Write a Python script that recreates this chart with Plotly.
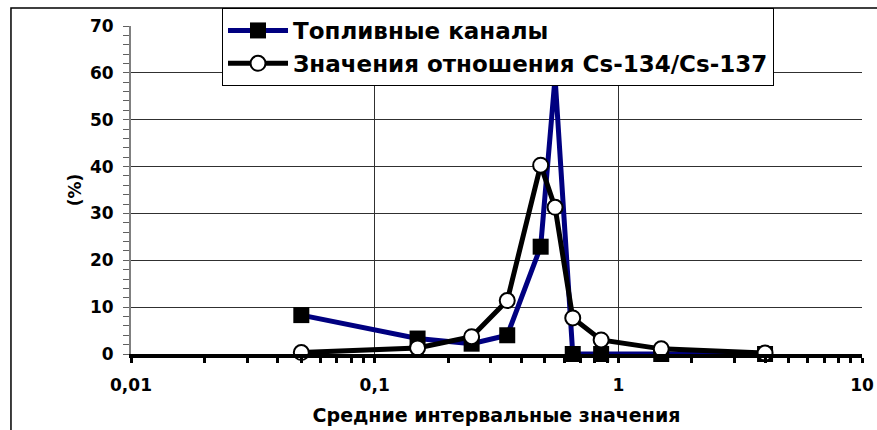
import plotly.graph_objects as go

# Data
x_vals = [0.05, 0.15, 0.25, 0.35, 0.48, 0.55, 0.65, 0.85, 1.5, 4]
fuel_channels = [8.3, 3.3, 2.2, 4.0, 22.9, 59.0, 0.0, 0.0, 0.0, 0.0]
cs_ratio = [0.3, 1.3, 3.7, 11.4, 40.3, 31.3, 7.7, 3.0, 1.1, 0.2]

series_names = ["Топливные каналы", "Значения отношения Cs-134/Cs-137"]
x_tickvals = [0.01, 0.1, 1, 10]
x_ticktext = ["0,01", "0,1", "1", "10"]
y_tickvals = [0, 10, 20, 30, 40, 50, 60, 70]
x_title = "Средние интервальные значения"
y_title = "(%)"

FONT = "DejaVu Sans, Verdana, sans-serif"

fig = go.Figure()
fig.add_trace(go.Scatter(
    x=x_vals, y=fuel_channels, name=series_names[0], mode="lines+markers",
    line=dict(color="#000080", width=5),
    marker=dict(symbol="square", size=16, color="black", line=dict(width=0)),
    cliponaxis=False,
))
fig.add_trace(go.Scatter(
    x=x_vals, y=cs_ratio, name=series_names[1], mode="lines+markers",
    line=dict(color="black", width=5),
    marker=dict(symbol="circle", size=15, color="white", line=dict(color="black", width=2)),
    cliponaxis=False,
))

fig.update_layout(
    width=877, height=430,
    margin=dict(l=131, r=15, t=26, b=76, autoexpand=False),
    paper_bgcolor="white", plot_bgcolor="white",
    font=dict(family=FONT, color="black", size=16, weight="bold"),
    showlegend=True,
    legend=dict(
        x=0.1245, y=1.0549, xanchor="left", yanchor="top",
        bgcolor="white", bordercolor="black", borderwidth=1,
        font=dict(family=FONT, size=23, color="black", weight="bold"),
        itemwidth=60, tracegroupgap=0,
    ),
    shapes=[dict(
        type="rect", xref="paper", yref="paper",
        x0=-0.1642, x1=1.2, y0=-0.5, y1=1.0549,
        line=dict(color="black", width=1.5), layer="below",
    )],
)

fig.update_xaxes(
    type="log", range=[-2, 1], automargin=False,
    tickvals=x_tickvals, ticktext=x_ticktext,
    showgrid=True, gridcolor="#303030", gridwidth=1,
    showline=True, linecolor="black", linewidth=4,
    ticks="outside", ticklen=5, tickwidth=3, tickcolor="black",
    minor=dict(ticks="outside", dtick="D1", ticklen=5, tickwidth=3, tickcolor="black", showgrid=False),
    tickfont=dict(family=FONT, size=17, weight="bold"),
    ticklabelstandoff=8,
    title=dict(text=x_title, font=dict(family=FONT, size=19, weight="bold"), standoff=15),
    zeroline=False,
)
fig.update_yaxes(
    range=[0, 70], tickvals=y_tickvals, automargin=False,
    showgrid=True, gridcolor="#303030", gridwidth=1,
    showline=True, linecolor="#808080", linewidth=2,
    ticks="outside", ticklen=6, tickwidth=1, tickcolor="#606060",
    minor=dict(ticks="outside", dtick=2, ticklen=6, tickwidth=1, tickcolor="#606060", showgrid=False),
    tickfont=dict(family=FONT, size=17, weight="bold"),
    ticklabelstandoff=6,
    title=dict(text=y_title, font=dict(family=FONT, size=17, weight="bold"), standoff=4),
    zeroline=False,
)

fig.write_html("out.html")
